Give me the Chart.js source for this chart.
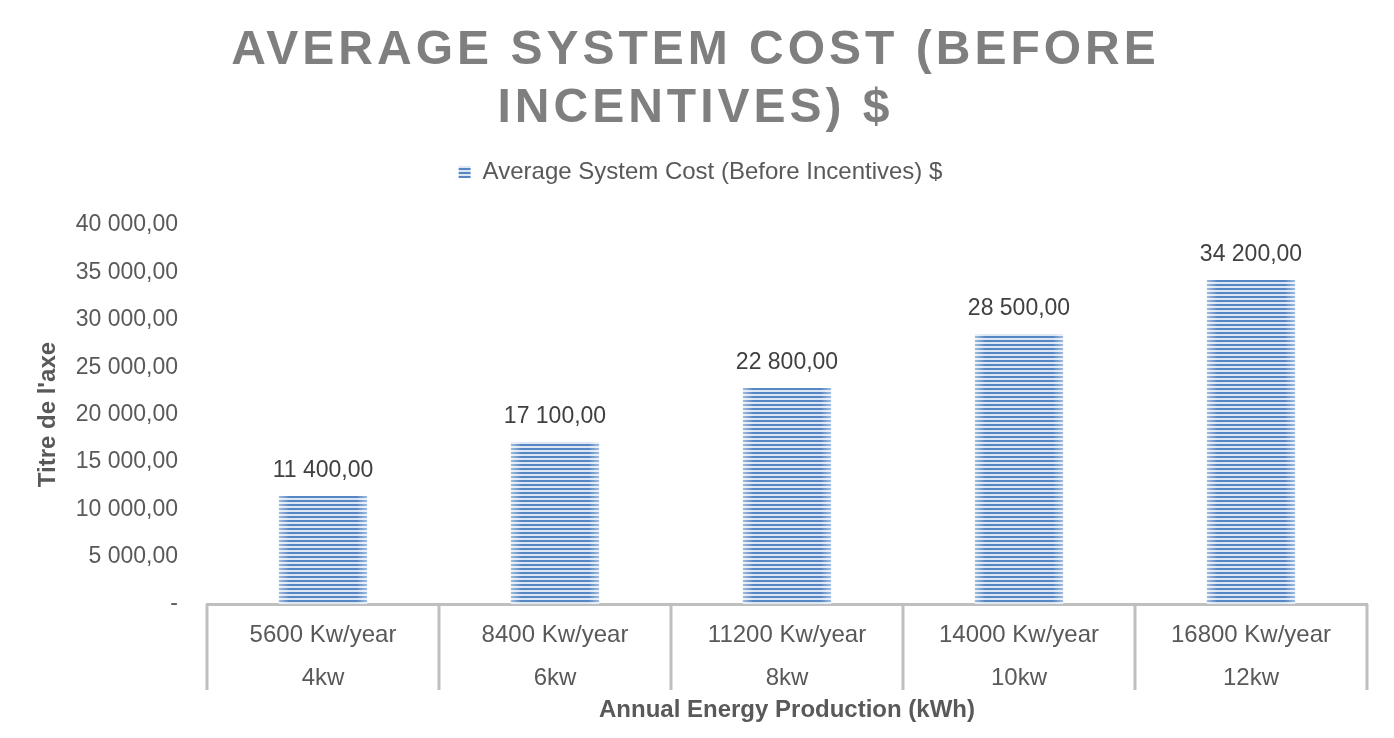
<!DOCTYPE html>
<html>
<head>
<meta charset="utf-8">
<script src="https://cdn.jsdelivr.net/npm/chart.js@4.4.1/dist/chart.umd.min.js"></script>
<style>
html,body{margin:0;padding:0;background:#fff;}
#wrap{width:1394px;height:738px;}
</style>
</head>
<body>
<div id="wrap"><canvas id="c" width="1394" height="738"></canvas></div>
<script>
const productionLabels = ["5600 Kw/year", "8400 Kw/year", "11200 Kw/year", "14000 Kw/year", "16800 Kw/year"];
const systemSizes = ["4kw", "6kw", "8kw", "10kw", "12kw"];
const costValues = [11400, 17100, 22800, 28500, 34200];
const seriesName = "Average System Cost (Before Incentives) $";
const chartTitle = ["AVERAGE SYSTEM COST (BEFORE", "INCENTIVES) $"];
const yAxisTitle = "Titre de l'axe";
const xAxisTitle = "Annual Energy Production (kWh)";

const FONT = "'Liberation Sans', Arial, sans-serif";

function fmt(v) {
  if (v === 0) return "-";
  const fixed = Math.abs(v).toFixed(2);
  const [intPart, dec] = fixed.split(".");
  const grouped = intPart.replace(/\B(?=(\d{3})+(?!\d))/g, " ");
  return (v < 0 ? "-" : "") + grouped + "," + dec;
}

function makeStripe() {
  const pc = document.createElement("canvas");
  pc.width = 4; pc.height = 4;
  const p = pc.getContext("2d");
  p.fillStyle = "#dde7f3"; p.fillRect(0, 0, 4, 4);
  p.fillStyle = "#5686c4"; p.fillRect(0, 0, 4, 2);
  return document.getElementById("c").getContext("2d").createPattern(pc, "repeat");
}
const stripe = makeStripe();

const categories = productionLabels.map((p, i) => [p, systemSizes[i]]);

const extras = {
  id: "extras",
  afterDatasetsDraw(chart) {
    const ctx = chart.ctx;
    const meta = chart.getDatasetMeta(0);
    ctx.save();
    meta.data.forEach(bar => {
      const l = bar.x - bar.width / 2, r = bar.x + bar.width / 2;
      const g = ctx.createLinearGradient(l, 0, r, 0);
      g.addColorStop(0, "rgba(255,255,255,0.45)");
      g.addColorStop(0.12, "rgba(255,255,255,0)");
      g.addColorStop(0.88, "rgba(255,255,255,0)");
      g.addColorStop(1, "rgba(255,255,255,0.45)");
      ctx.fillStyle = g;
      ctx.fillRect(l, bar.y, bar.width, bar.base - bar.y);
    });
    ctx.font = "23px " + FONT;
    ctx.fillStyle = "#404040";
    ctx.textAlign = "center";
    ctx.textBaseline = "middle";
    meta.data.forEach((bar, i) => {
      ctx.fillText(fmt(chart.data.datasets[0].data[i]), bar.x, bar.y - 25);
    });
    ctx.restore();
  },
  afterDraw(chart) {
    const ctx = chart.ctx;
    const xs = chart.scales.x;
    const n = chart.data.labels.length;
    const w = xs.width / n;
    ctx.save();
    ctx.strokeStyle = "#bfbfbf";
    ctx.lineWidth = 3;
    for (let i = 0; i <= n; i++) {
      const x = xs.left + i * w;
      ctx.beginPath();
      ctx.moveTo(x, chart.chartArea.bottom);
      ctx.lineTo(x, chart.chartArea.bottom + 86);
      ctx.stroke();
    }
    ctx.restore();
  }
};

const chart = new Chart(document.getElementById("c"), {
  type: "bar",
  data: {
    labels: categories,
    datasets: [{
      label: seriesName,
      data: costValues,
      backgroundColor: stripe,
      borderWidth: 0,
      categoryPercentage: 1.0,
      barPercentage: 0.38
    }]
  },
  plugins: [extras],
  options: {
    responsive: false,
    animation: false,
    devicePixelRatio: 1,
    layout: { padding: { top: 0, left: 34, right: 27, bottom: 13 } },
    plugins: {
      tooltip: { enabled: false },
      title: {
        display: true,
        text: chartTitle,
        color: "#7f7f7f",
        font: { family: FONT, size: 48, weight: "bold", lineHeight: 1.22 },
        padding: { top: 21, bottom: 12 }
      },
      legend: {
        display: true,
        position: "top",
        labels: {
          color: "#595959",
          font: { family: FONT, size: 24 },
          boxWidth: 12,
          boxHeight: 12,
          padding: 10
        }
      }
    },
    scales: {
      x: {
        grid: { display: false, drawTicks: false },
        border: { display: true, color: "#bfbfbf", width: 3 },
        ticks: {
          color: "#595959",
          font: { family: FONT, size: 24, lineHeight: 1.79 },
          padding: 10,
          maxRotation: 0,
          autoSkip: false
        },
        title: {
          display: true,
          text: xAxisTitle,
          color: "#595959",
          font: { family: FONT, size: 24, weight: "bold" },
          padding: { top: 0, bottom: 0 }
        },
        afterFit(scale) { scale.height = 121; }
      },
      y: {
        min: 0,
        max: 40000,
        grid: { display: false, drawTicks: false },
        border: { display: false },
        ticks: {
          stepSize: 5000,
          color: "#595959",
          font: { family: FONT, size: 23 },
          padding: 29,
          callback: v => fmt(v)
        },
        title: {
          display: true,
          text: yAxisTitle,
          color: "#595959",
          font: { family: FONT, size: 24, weight: "bold" },
          padding: { top: 0, bottom: 0 }
        },
        afterFit(scale) { scale.width = 207 - 34; }
      }
    }
  }
});

// letter-spaced title
const origTitleDraw = chart.titleBlock.draw;
chart.titleBlock.draw = function () {
  const ctx = this.ctx;
  ctx.save();
  ctx.letterSpacing = "4px";
  ctx.translate(-5, 0);
  origTitleDraw.apply(this, arguments);
  ctx.restore();
};
// extra space below the legend
const origLegendFit = chart.legend.fit;
chart.legend.fit = function () {
  origLegendFit.apply(this, arguments);
  this.height += 31;
};
chart.update();
</script>
</body>
</html>
